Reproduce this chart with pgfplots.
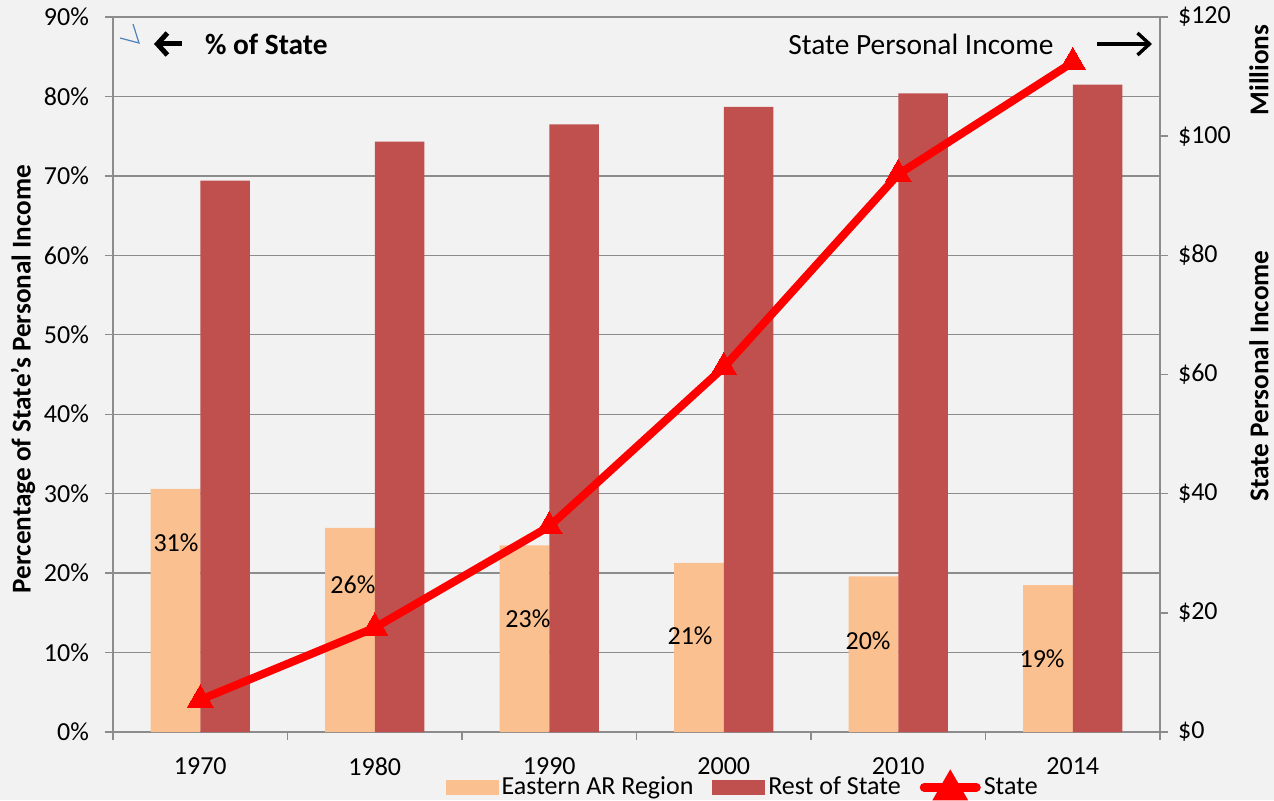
\documentclass[border=0pt]{standalone}
\usepackage{pgfplots}
\pgfplotsset{compat=1.18}
\usepackage{pgfplotstable}
\usepackage{fontspec}
\setmainfont{Carlito}
\usetikzlibrary{arrows.meta}

\definecolor{bg}{HTML}{F2F2F2}
\definecolor{eastern}{HTML}{FAC090}
\definecolor{rest}{HTML}{C0504D}
\definecolor{gridc}{HTML}{8C8C8C}
\definecolor{pen}{HTML}{4F81BD}

% share of state personal income (%), state total ($ millions)
\pgfplotstableread{
x year eastern rest state
0 1970 30.6 69.4 5.4
1 1980 25.7 74.3 17.5
2 1990 23.5 76.5 34.5
3 2000 21.3 78.7 61.2
4 2010 19.6 80.4 93.6
5 2014 18.5 81.5 112.4
}\data

\newcommand{\fs}{\fontsize{13}{15}\selectfont}
\newcommand{\fa}{\fontsize{14.7}{17}\selectfont}
\newcommand{\fl}{\fontsize{13.6}{16}\selectfont}

\pgfplotsset{
  base/.style={
    at={(56.5pt,34pt)}, anchor=south west,
    scale only axis, width=523.5pt, height=357.5pt,
    xmin=-0.5, xmax=5.5,
    axis line style={gridc, line width=0.7pt},
    tick style={gridc, line width=0.7pt},
    tick align=outside,
    major tick length=4pt,
    ticklabel style={font=\fs},
  },
}

\begin{document}
\begin{tikzpicture}
\path[use as bounding box, fill=bg] (0pt,0pt) rectangle (637pt,400pt);

\begin{axis}[base,
  axis x line*=bottom, axis y line*=left,
  ymin=0, ymax=90,
  ytick={0,10,...,90},
  yticklabels={0\%,10\%,20\%,30\%,40\%,50\%,60\%,70\%,80\%,90\%},
  yticklabel style={xshift=-4.5pt},
  ymajorgrids, grid style={gridc, line width=0.7pt},
  xtick={0,...,5},
  xticklabels={1970,1980,1990,2000,2010,2014},
  major x tick style={draw=none},
  minor xtick={-0.5,0.5,...,5.5},
  minor tick length=4pt,
  xticklabel style={yshift=-5.5pt},
  ybar=0pt, bar width=0.284,
]
\addplot[fill=eastern, draw=none] table[x=x, y=eastern] {\data};
\addplot[fill=rest, draw=none] table[x=x, y=rest] {\data};
\node[font=\fs] at (axis cs:-0.139,23.8) {31\%};
\node[font=\fs] at (axis cs:0.875,18.6) {26\%};
\node[font=\fs] at (axis cs:1.878,14.2) {23\%};
\node[font=\fs] at (axis cs:2.807,12.1) {21\%};
\node[font=\fs] at (axis cs:3.827,11.5) {20\%};
\node[font=\fs] at (axis cs:4.824,9.2) {19\%};
\end{axis}

\begin{axis}[base,
  axis y line*=right, axis x line=none,
  ymin=0, ymax=120,
  ytick={0,20,...,120},
  yticklabels={\$0,\$20,\$40,\$60,\$80,\$100,\$120},
  yticklabel style={xshift=1.5pt},
  legend columns=3,
  legend style={at={(0.602,-0.077)}, anchor=center, draw=none, fill=none,
    font=\fs, inner sep=0pt, nodes={inner sep=1.5pt},
    /tikz/every even column/.append style={column sep=8pt}},
  legend cell align=left,
]
\addlegendimage{legend image code/.code={\fill[eastern] (0pt,-3.5pt) rectangle (26pt,3.5pt);}}
\addlegendentry{Eastern AR Region}
\addlegendimage{legend image code/.code={\fill[rest] (0pt,-3.5pt) rectangle (26pt,3.5pt);}}
\addlegendentry{Rest of State}
\addplot[red, line width=4pt, mark=triangle*, mark size=7.5pt,
  mark options={solid, line width=0pt},
  legend image code/.code={
    \draw[red, line width=4.5pt, line cap=round] (2pt,0pt) -- (28pt,0pt);
    \fill[red] (15pt,5pt) -- (9.5pt,-4.5pt) -- (20.5pt,-4.5pt) -- cycle;}]
  table[x=x, y=state] {\data};
\addlegendentry{State}
\end{axis}

% annotations
\draw[pen, line width=0.6pt] (60pt,381pt) -- (69.5pt,378.5pt) -- (66.5pt,388pt);
\draw[black, line width=2.5pt, -{Straight Barb[length=5pt,width=11pt]}] (91pt,378pt) -- (77pt,378pt);
\node[font=\fa\bfseries, anchor=west] at (99pt,378pt) {\% of State};
\node[font=\fa] at (460.5pt,378pt) {State Personal Income};
\draw[black, line width=1.7pt, -{Straight Barb[length=6pt,width=11pt]}] (548.5pt,378pt) -- (576pt,378pt);

\node[font=\fl\bfseries, rotate=90] at (11.5pt,210.5pt) {Percentage of State's Personal Income};
\node[font=\fl\bfseries, rotate=90] at (629.5pt,212pt) {State Personal Income};
\node[font=\fl\bfseries, rotate=90] at (629.5pt,365pt) {Millions};
\end{tikzpicture}
\end{document}
